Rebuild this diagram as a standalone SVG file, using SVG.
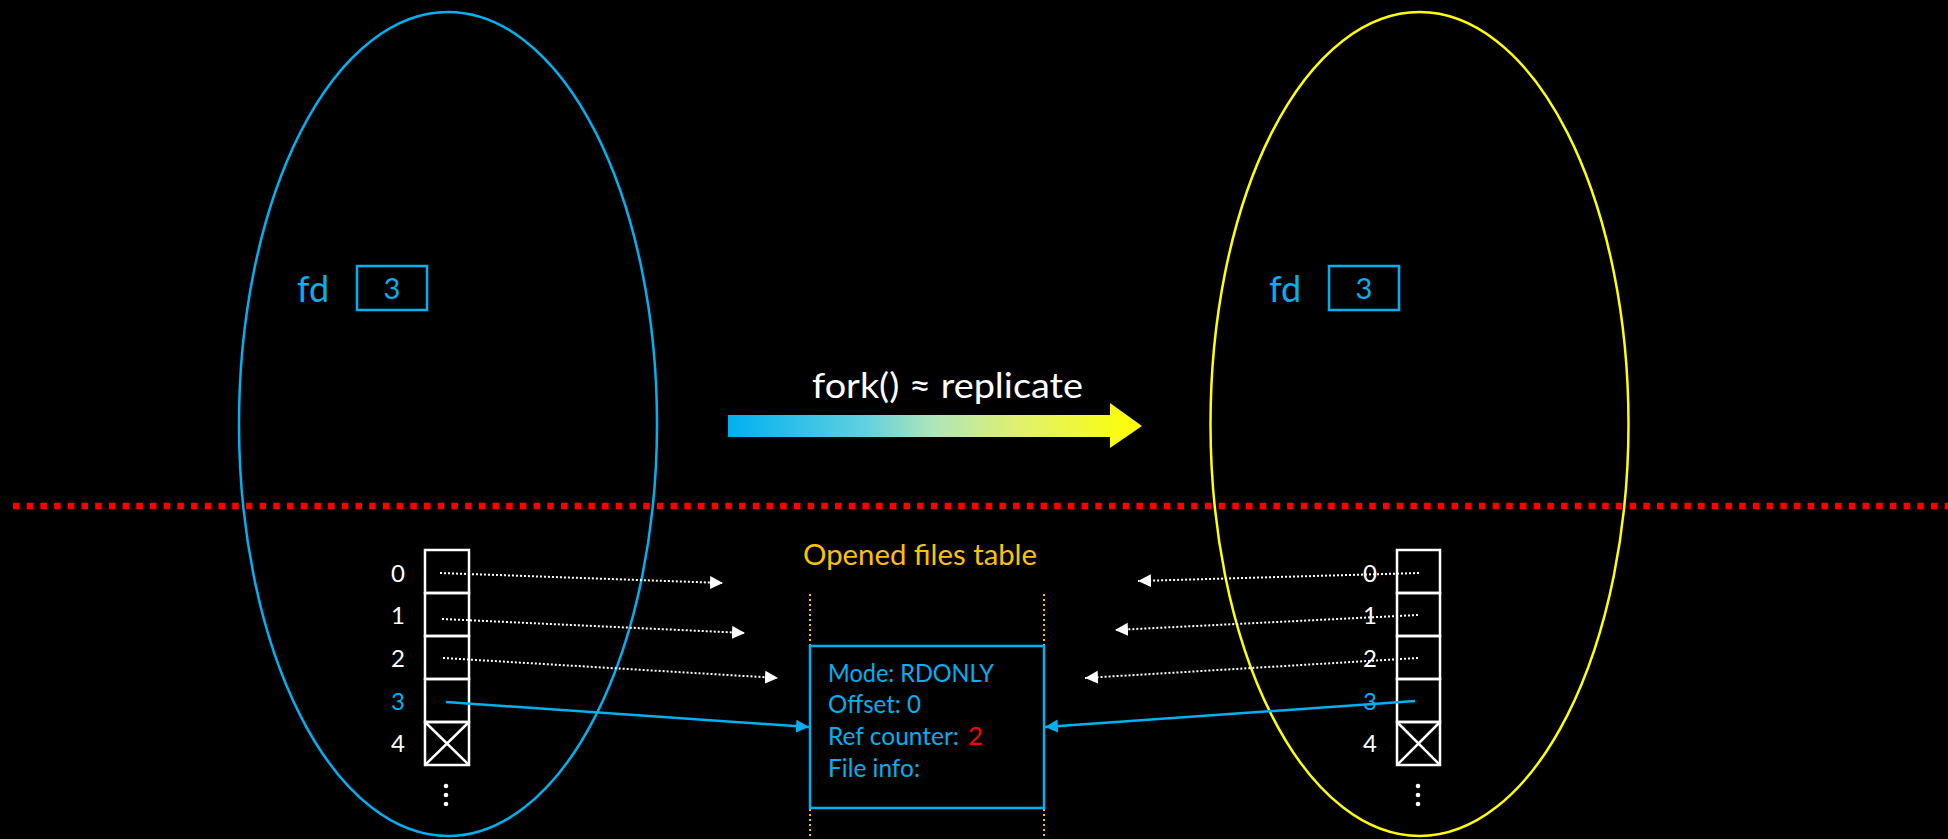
<svg xmlns="http://www.w3.org/2000/svg" width="1948" height="839" viewBox="0 0 1948 839">
  <style>
    .t { font-family: Lato, "Open Sans", "Liberation Sans", sans-serif; }
    .blue { fill: #00B0F0; }
    .white { fill: #FFFFFF; }
    .orange { fill: #FFC000; }
    .red { fill: #FF0000; }
    .cell { fill: none; stroke: #FFFFFF; stroke-width: 2.5; }
    .ptr { fill: none; stroke: #FFFFFF; stroke-width: 2; stroke-dasharray: 2 2; }
    .ptr3 { fill: none; stroke: #00B0F0; stroke-width: 2.5; }
    .guide { fill: none; stroke: #FFC000; stroke-width: 2; stroke-dasharray: 2 3; }
    .idx { font-size: 24px; text-anchor: middle; }
    .info { font-size: 25.5px; }
  </style>
  <defs>
    <linearGradient id="forkGrad" x1="0" y1="0" x2="1" y2="0">
      <stop offset="0" stop-color="#00B0F0"/>
      <stop offset="0.33" stop-color="#60D0E0"/>
      <stop offset="0.5" stop-color="#B0E6B8"/>
      <stop offset="0.7" stop-color="#E0F070"/>
      <stop offset="1" stop-color="#FFFF00"/>
    </linearGradient>
    <marker id="headWhite" markerUnits="userSpaceOnUse" markerWidth="14" markerHeight="14" refX="13" refY="6.5" orient="auto">
      <path d="M0,0 L13,6.5 L0,13 Z" fill="#FFFFFF"/>
    </marker>
    <marker id="headBlue" markerUnits="userSpaceOnUse" markerWidth="14" markerHeight="14" refX="13" refY="6.5" orient="auto">
      <path d="M0,0 L13,6.5 L0,13 Z" fill="#00B0F0"/>
    </marker>
  </defs>

  <rect x="0" y="0" width="1948" height="839" fill="#000000"/>

  <!-- parent process -->
  <g id="parent">
    <ellipse cx="448" cy="424" rx="209" ry="412" fill="none" stroke="#00B0F0" stroke-width="2.5"/>
    <text class="t blue" x="297" y="302" font-size="36">fd</text>
    <rect x="357" y="266" width="70" height="44" fill="none" stroke="#00B0F0" stroke-width="2.5"/>
    <text class="t blue" x="392" y="299" font-size="29" text-anchor="middle">3</text>
  </g>

  <!-- child process -->
  <g id="child">
    <ellipse cx="1419.5" cy="424" rx="209" ry="412" fill="none" stroke="#FFFF00" stroke-width="2.5"/>
    <text class="t blue" x="1269" y="302" font-size="36">fd</text>
    <rect x="1329" y="266" width="70" height="44" fill="none" stroke="#00B0F0" stroke-width="2.5"/>
    <text class="t blue" x="1364" y="299" font-size="29" text-anchor="middle">3</text>
  </g>

  <!-- fork arrow -->
  <g id="fork">
    <text class="t white" x="812" y="398" font-size="34" textLength="271" lengthAdjust="spacingAndGlyphs">fork() ≈ replicate</text>
    <polygon points="728,415 1110,415 1110,403 1142,426 1110,448 1110,437 728,437" fill="url(#forkGrad)"/>
  </g>

  <!-- kernel / user boundary -->
  <line id="boundary" x1="13" y1="506" x2="1948" y2="506" stroke="#FF0000" stroke-width="6.5" stroke-dasharray="6.5 7.2"/>

  <!-- parent descriptor table -->
  <g id="parent-fds">
    <rect class="cell" x="425" y="550" width="44" height="43"/>
    <rect class="cell" x="425" y="593" width="44" height="43"/>
    <rect class="cell" x="425" y="636" width="44" height="43"/>
    <rect class="cell" x="425" y="679" width="44" height="43"/>
    <rect class="cell" x="425" y="722" width="44" height="43"/>
    <path class="cell" d="M425,722 L469,765 M469,722 L425,765"/>
    <text class="t white idx" x="398" y="582">0</text>
    <text class="t white idx" x="398" y="624">1</text>
    <text class="t white idx" x="398" y="667">2</text>
    <text class="t blue idx" x="398" y="710">3</text>
    <text class="t white idx" x="398" y="752">4</text>
    <circle cx="446" cy="786" r="2.3" fill="#FFFFFF"/>
    <circle cx="446" cy="795" r="2.3" fill="#FFFFFF"/>
    <circle cx="446" cy="804" r="2.3" fill="#FFFFFF"/>
  </g>

  <!-- child descriptor table -->
  <g id="child-fds">
    <rect class="cell" x="1397" y="550" width="43" height="43"/>
    <rect class="cell" x="1397" y="593" width="43" height="43"/>
    <rect class="cell" x="1397" y="636" width="43" height="43"/>
    <rect class="cell" x="1397" y="679" width="43" height="43"/>
    <rect class="cell" x="1397" y="722" width="43" height="43"/>
    <path class="cell" d="M1397,722 L1440,765 M1440,722 L1397,765"/>
    <text class="t white idx" x="1370" y="582">0</text>
    <text class="t white idx" x="1370" y="624">1</text>
    <text class="t white idx" x="1370" y="667">2</text>
    <text class="t blue idx" x="1370" y="710">3</text>
    <text class="t white idx" x="1370" y="752">4</text>
    <circle cx="1418" cy="786" r="2.3" fill="#FFFFFF"/>
    <circle cx="1418" cy="795" r="2.3" fill="#FFFFFF"/>
    <circle cx="1418" cy="804" r="2.3" fill="#FFFFFF"/>
  </g>

  <!-- shared open file entry -->
  <g id="open-files">
    <text class="t orange" x="803" y="565" font-size="28" textLength="234" lengthAdjust="spacingAndGlyphs">Opened files table</text>
    <line class="guide" x1="810" y1="594" x2="810" y2="839"/>
    <line class="guide" x1="1044" y1="594" x2="1044" y2="839"/>
    <rect x="810" y="646" width="234" height="162" fill="#000000" stroke="#00B0F0" stroke-width="2.5"/>
    <text class="t blue info" x="828" y="682" textLength="166" lengthAdjust="spacingAndGlyphs">Mode: RDONLY</text>
    <text class="t blue info" x="828" y="713" textLength="93" lengthAdjust="spacingAndGlyphs">Offset: 0</text>
    <text class="t blue info" x="828" y="745" textLength="131" lengthAdjust="spacingAndGlyphs">Ref counter:</text>
    <text class="t red info" x="968" y="745">2</text>
    <text class="t blue info" x="828" y="777" textLength="92" lengthAdjust="spacingAndGlyphs">File info:</text>
  </g>

  <!-- descriptor pointers -->
  <g id="connectors">
    <line class="ptr" x1="440" y1="573" x2="723" y2="583" marker-end="url(#headWhite)"/>
    <line class="ptr" x1="442" y1="619" x2="745" y2="633" marker-end="url(#headWhite)"/>
    <line class="ptr" x1="443" y1="658" x2="778" y2="678" marker-end="url(#headWhite)"/>
    <line class="ptr3" x1="446" y1="702" x2="809" y2="727" marker-end="url(#headBlue)"/>
    <line class="ptr" x1="1419" y1="573" x2="1138" y2="581" marker-end="url(#headWhite)"/>
    <line class="ptr" x1="1418" y1="615" x2="1115" y2="630" marker-end="url(#headWhite)"/>
    <line class="ptr" x1="1418" y1="658" x2="1085" y2="678" marker-end="url(#headWhite)"/>
    <line class="ptr3" x1="1415" y1="701" x2="1045" y2="727" marker-end="url(#headBlue)"/>
  </g>
</svg>
